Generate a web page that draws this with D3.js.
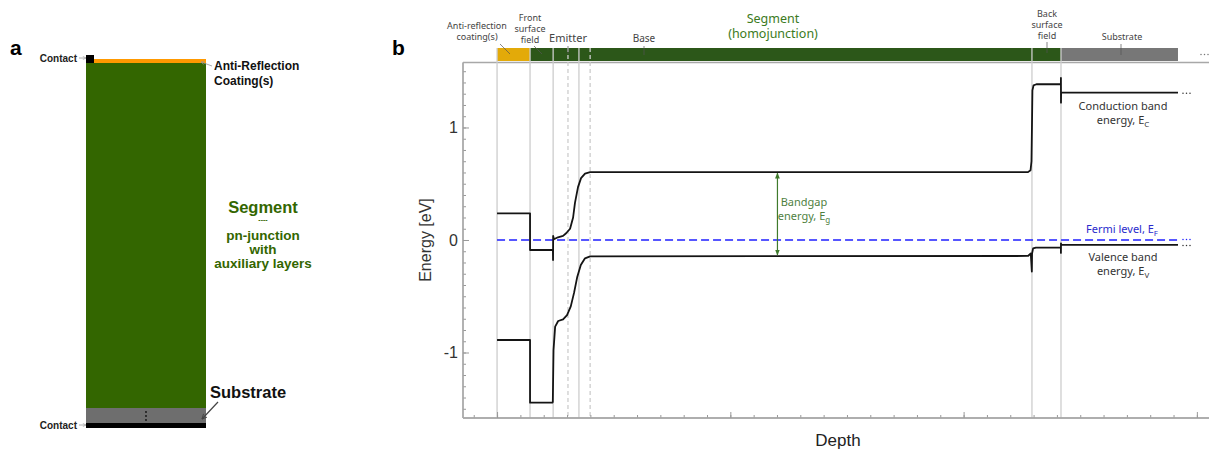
<!DOCTYPE html>
<html>
<head>
<meta charset="utf-8">
<script src="https://cdn.jsdelivr.net/npm/d3@7"></script>
<style>
  body { margin: 0; background: #fff; }
  svg { display: block; }
  .tick text { font-family: "Liberation Sans", Arial, sans-serif; }
</style>
</head>
<body>
<svg id="chart" width="1209" height="449"></svg>
<script>
// depth in arbitrary units, energy in eV
const majorDepthTicks = [0, 1, 2, 3];
const majorEnergyTicks = [-1, 0, 1];
const solidBounds = [0, 0.1414, 0.2404, 0.351, 2.293, 2.4175];
const dashedBounds = [0.304, 0.399];
const layerBar = [
    { key: 'arc', x0: 0, x1: 0.1414 },
    { key: 'segment', x0: 0.1414, x1: 2.4175 },
    { key: 'substrate', x0: 2.4175, x1: 2.919 }
];
const conductionBand = [
    [0, 0.237], [0.1414, 0.237], [0.1414, -0.089], [0.2395, -0.089], [0.2400, -0.178], [0.2405, 0.036],
    [0.2440, 0.006], [0.2610, 0.024], [0.2830, 0.036], [0.2960, 0.06], [0.3130, 0.10], [0.3260, 0.20],
    [0.3340, 0.33], [0.3470, 0.47], [0.3600, 0.55], [0.3770, 0.59], [0.3990, 0.603], [2.276, 0.603],
    [2.287, 0.62], [2.291, 0.70], [2.293, 1.0], [2.295, 1.33], [2.300, 1.375], [2.312, 1.384],
    [2.4170, 1.384], [2.4172, 1.44], [2.4175, 1.22], [2.4180, 1.309], [2.919, 1.309]
];
const valenceBand = [
    [0, -0.889], [0.1414, -0.889], [0.1414, -1.446], [0.2370, -1.446], [0.2390, -1.44], [0.2420, -0.98],
    [0.2490, -0.77], [0.2620, -0.72], [0.2830, -0.705], [0.3000, -0.667], [0.3160, -0.59], [0.3300, -0.47],
    [0.3440, -0.326], [0.3590, -0.222], [0.3770, -0.163], [0.3990, -0.145], [2.276, -0.142], [2.288, -0.12],
    [2.2925, -0.28], [2.2935, -0.12], [2.298, -0.075], [2.310, -0.068], [2.4170, -0.068], [2.4172, -0.115],
    [2.4175, -0.03], [2.4180, -0.044], [2.919, -0.044]
];
const fermiLevel = [[0, 0], [2.919, 0]];
const bandgapAt = 1.202;

const barColors = { arc: '#e3aa09', segment: '#2c5719', substrate: '#777777' };
const svg = d3.select('#chart');
const sansB = '"Liberation Sans", Arial, sans-serif';
const sansN = '"Noto Sans", sans-serif';

// ---------- panel a ----------
const a = svg.append('g');
a.append('text').attr('x', 10).attr('y', 55).text('a')
    .attr('font-family', sansB).attr('font-weight', 'bold').attr('font-size', 21);
a.append('rect').attr('x', 86).attr('y', 63).attr('width', 120).attr('height', 345).attr('fill', '#336600');
a.append('rect').attr('x', 93).attr('y', 59).attr('width', 113).attr('height', 4).attr('fill', '#ff9900');
a.append('rect').attr('x', 86).attr('y', 55).attr('width', 8).attr('height', 8).attr('fill', '#000');
a.append('rect').attr('x', 86).attr('y', 408).attr('width', 120).attr('height', 15).attr('fill', '#6e6e6e');
a.append('rect').attr('x', 86).attr('y', 423).attr('width', 120).attr('height', 5).attr('fill', '#000');
[412, 416, 420].forEach(yy => a.append('circle').attr('cx', 146).attr('cy', yy).attr('r', 0.9).attr('fill', '#111'));

const defs = svg.append('defs');
defs.append('marker').attr('id', 'arrGray').attr('viewBox', '0 0 10 10').attr('refX', 9).attr('refY', 5)
    .attr('markerWidth', 5).attr('markerHeight', 5).attr('orient', 'auto')
    .append('path').attr('d', 'M1,1 L9,5 L1,9').attr('fill', 'none').attr('stroke', '#999').attr('stroke-width', 1.5);
defs.append('marker').attr('id', 'arrDark').attr('viewBox', '0 0 10 10').attr('refX', 9).attr('refY', 5)
    .attr('markerWidth', 5).attr('markerHeight', 5).attr('orient', 'auto')
    .append('path').attr('d', 'M1,1 L9,5 L1,9').attr('fill', 'none').attr('stroke', '#444').attr('stroke-width', 1.5);
defs.append('marker').attr('id', 'arrGreen').attr('viewBox', '0 0 10 10').attr('refX', 9).attr('refY', 5)
    .attr('markerWidth', 5).attr('markerHeight', 5).attr('orient', 'auto-start-reverse')
    .append('path').attr('d', 'M0,1 L10,5 L0,9 Z').attr('fill', '#3f7a2c');

[[58, 'Contact'], [425, 'Contact']].forEach(([yy, t]) => {
    a.append('text').attr('x', 77).attr('y', yy + 3.5).attr('text-anchor', 'end').text(t)
        .attr('font-family', sansB).attr('font-weight', 'bold').attr('font-size', 10).attr('fill', '#222');
    a.append('line').attr('x1', 79).attr('x2', 86).attr('y1', yy).attr('y2', yy)
        .attr('stroke', '#999').attr('stroke-width', 0.8).attr('marker-end', 'url(#arrGray)');
});
a.append('line').attr('x1', 212).attr('y1', 66).attr('x2', 201).attr('y2', 62)
    .attr('stroke', '#999').attr('stroke-width', 0.8).attr('marker-end', 'url(#arrGray)');
const arcLab = a.append('text').attr('font-family', sansB).attr('font-weight', 'bold').attr('font-size', 12).attr('fill', '#111');
arcLab.append('tspan').attr('x', 214).attr('y', 70).text('Anti-Reflection');
arcLab.append('tspan').attr('x', 214).attr('y', 85).text('Coating(s)');
a.append('text').attr('x', 210).attr('y', 398).text('Substrate')
    .attr('font-family', sansB).attr('font-weight', 'bold').attr('font-size', 16.5).attr('fill', '#111');
a.append('line').attr('x1', 218).attr('y1', 402).attr('x2', 202).attr('y2', 419)
    .attr('stroke', '#444').attr('stroke-width', 1.2).attr('marker-end', 'url(#arrDark)');
const segLab = a.append('text').attr('text-anchor', 'middle').attr('font-family', sansB)
    .attr('font-weight', 'bold').attr('fill', '#336600');
segLab.append('tspan').attr('x', 263).attr('y', 213).attr('font-size', 16.5).text('Segment');
segLab.append('tspan').attr('x', 263).attr('y', 222).attr('font-size', 7).text('----');
segLab.append('tspan').attr('x', 263).attr('y', 240).attr('font-size', 13.5).text('pn-junction');
segLab.append('tspan').attr('x', 263).attr('y', 254).attr('font-size', 13.5).text('with');
segLab.append('tspan').attr('x', 263).attr('y', 268).attr('font-size', 13.5).text('auxiliary layers');

// ---------- panel b ----------
const x = d3.scaleLinear().domain([-0.146, 3.052]).range([463, 1209]);
const y = d3.scaleLinear().domain([-1.582, 1.573]).range([418, 63]);
const b = svg.append('g');
b.append('text').attr('x', 392).attr('y', 55).text('b')
    .attr('font-family', sansB).attr('font-weight', 'bold').attr('font-size', 21);

// layer bar
b.selectAll('rect.layer').data(layerBar).join('rect').attr('class', 'layer')
    .attr('x', d => x(d.x0)).attr('width', d => x(d.x1) - x(d.x0))
    .attr('y', 48).attr('height', 13).attr('fill', d => barColors[d.key]);

// continuation dots (drawn as marks)
function dots(cx, cy, color) {
    [0, 3.5, 7].forEach(dx => b.append('circle').attr('cx', cx + dx).attr('cy', cy).attr('r', 0.75).attr('fill', color));
}
dots(1201, 54.5, '#777');

// frame
b.append('line').attr('x1', 463).attr('x2', 1209).attr('y1', 62.5).attr('y2', 62.5).attr('stroke', '#a8a8a8').attr('stroke-width', 1.3);

// layer boundaries
b.selectAll('line.sb').data(solidBounds).join('line').attr('class', 'sb')
    .attr('x1', d => x(d)).attr('x2', d => x(d)).attr('y1', 48).attr('y2', 418)
    .attr('stroke', '#cdcdcd').attr('stroke-width', 1.3);
b.selectAll('line.db').data(dashedBounds).join('line').attr('class', 'db')
    .attr('x1', d => x(d)).attr('x2', d => x(d)).attr('y1', 48).attr('y2', 418)
    .attr('stroke', '#cdcdcd').attr('stroke-width', 1.3).attr('stroke-dasharray', '4,3');

// axes
const minorE = d3.range(-15, 16).map(v => v / 10);
const minorD = d3.range(-1, 31).map(v => v / 10);
const yAxisG = b.append('g').attr('transform', 'translate(463,0)');
yAxisG.call(d3.axisLeft(y).tickValues(minorE).tickSize(-3).tickFormat(''));
yAxisG.append('g').call(d3.axisLeft(y).tickValues(majorEnergyTicks).tickSize(-6).tickPadding(5).tickFormat(d => String(d)));
const xAxisG = b.append('g').attr('transform', 'translate(0,418)');
xAxisG.call(d3.axisBottom(x).tickValues(minorD).tickSize(-3).tickFormat(''));
xAxisG.append('g').call(d3.axisBottom(x).tickValues(majorDepthTicks).tickSize(-6).tickFormat(''));
b.selectAll('.domain').attr('stroke', '#a8a8a8').attr('stroke-width', 1.3);
b.selectAll('.tick line').attr('stroke', '#999');
yAxisG.selectAll('.tick text').attr('font-size', 16).attr('fill', '#333');
yAxisG.selectAll('.domain').attr('d', 'M0,62.5V418');
xAxisG.selectAll('.domain').attr('d', 'M463,0H1209');

b.append('text').attr('transform', 'translate(431,240) rotate(-90)').attr('text-anchor', 'middle')
    .text('Energy [eV]').attr('font-family', sansB).attr('font-size', 16).attr('fill', '#333');
b.append('text').attr('x', 838).attr('y', 446).attr('text-anchor', 'middle').text('Depth')
    .attr('font-family', sansB).attr('font-size', 17).attr('fill', '#222');

// bands
const line = d3.line().x(d => x(d[0])).y(d => y(d[1]));
b.append('path').datum(fermiLevel).attr('d', line).attr('fill', 'none')
    .attr('stroke', '#1f1fff').attr('stroke-width', 1.6).attr('stroke-dasharray', '8,4');
[conductionBand, valenceBand].forEach(band => {
    b.append('path').datum(band).attr('d', line).attr('fill', 'none')
        .attr('stroke', '#141414').attr('stroke-width', 1.8).attr('stroke-linejoin', 'round');
});
[conductionBand, fermiLevel, valenceBand].forEach((band, i) => {
    const last = band[band.length - 1];
    dots(x(last[0]) + 5, y(last[1]) + (i === 1 ? -0.5 : 0.5), i === 1 ? '#1f1fff' : '#333');
});

// bandgap arrow
const ecBase = conductionBand.find(p => p[0] > 1)[1];
const evBase = valenceBand.find(p => p[0] > 1)[1];
b.append('line').attr('x1', x(bandgapAt)).attr('x2', x(bandgapAt)).attr('y1', y(ecBase) + 1).attr('y2', y(evBase) - 1)
    .attr('stroke', '#3f7a2c').attr('stroke-width', 1.2)
    .attr('marker-start', 'url(#arrGreen)').attr('marker-end', 'url(#arrGreen)');
const bg = b.append('text').attr('text-anchor', 'middle').attr('font-family', sansN).attr('font-size', 11).attr('fill', '#4f7f3f');
bg.append('tspan').attr('x', 804).attr('y', 206).text('Bandgap');
bg.append('tspan').attr('x', 804).attr('y', 220).text('energy, E');
bg.append('tspan').attr('font-size', 8).attr('dy', 3).text('g');

// right-hand labels
function subLabel(lines, cx, y0, color, size) {
    const t = b.append('text').attr('text-anchor', 'middle').attr('font-family', sansN).attr('font-size', size).attr('fill', color);
    lines.forEach((ln, i) => {
        t.append('tspan').attr('x', cx).attr('y', y0 + i * 14).text(ln[0]);
        if (ln[1]) t.append('tspan').attr('font-size', size * 0.72).attr('dy', 3).text(ln[1]);
    });
}
subLabel([['Conduction band'], ['energy, E', 'C']], 1123, 110, '#333', 11);
subLabel([['Fermi level, E', 'F']], 1122, 233, '#2a2acc', 11);
subLabel([['Valence band'], ['energy, E', 'V']], 1123, 261, '#333', 11);

// top labels
const topG = b.append('g').attr('font-family', sansN).attr('font-size', 9).attr('fill', '#444').attr('text-anchor', 'middle');
function topLabel(lines, cx, yLast, size, color) {
    const t = topG.append('text').attr('font-size', size || 9).attr('fill', color || '#444');
    lines.forEach((ln, i) => t.append('tspan').attr('x', cx).attr('y', yLast - (lines.length - 1 - i) * 11).text(ln));
}
topLabel(['Anti-reflection', 'coating(s)'], 477, 40);
topLabel(['Front', 'surface', 'field'], 530, 43);
topLabel(['Emitter'], 568, 42, 11);
topLabel(['Base'], 644, 42, 10);
topLabel(['Back', 'surface', 'field'], 1047, 39);
topLabel(['Substrate'], 1122, 40);
const segT = topG.append('text').attr('font-size', 12.5).attr('fill', '#3b7a22');
segT.append('tspan').attr('x', 773).attr('y', 23).text('Segment');
segT.append('tspan').attr('x', 773).attr('y', 38).text('(homojunction)');
[[500, 44, 510, 54], [534, 46, 542, 54], [568, 46, 568, 54], [644, 46, 644, 55], [1047, 42, 1047, 53], [1121, 44, 1121, 55]]
    .forEach(([x1, y1, x2, y2]) => topG.append('line').attr('x1', x1).attr('y1', y1).attr('x2', x2).attr('y2', y2)
        .attr('stroke', '#555').attr('stroke-width', 0.7));
</script>
</body>
</html>
